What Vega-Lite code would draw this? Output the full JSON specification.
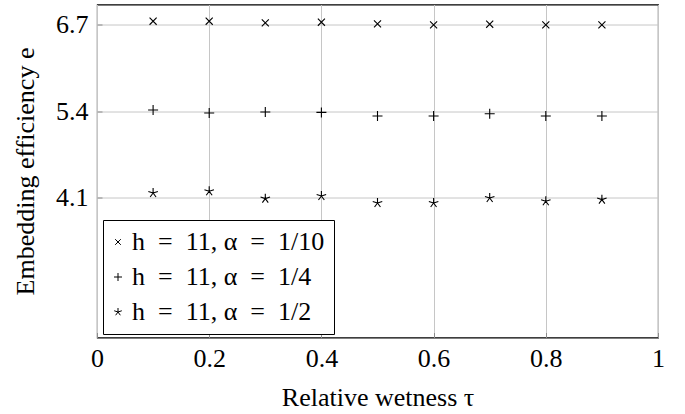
{
  "$schema": "https://vega.github.io/schema/vega-lite/v6.json",
  "autosize": "none",
  "width": 561,
  "height": 333,
  "padding": {"left": 97, "top": 4.5, "right": 27, "bottom": 76.5},
  "background": "white",
  "config": {
    "view": {"stroke": "black", "strokeWidth": 1.1},
    "axis": {
      "labelFont": "Liberation Serif",
      "titleFont": "Liberation Serif",
      "labelFontSize": 26,
      "titleFontSize": 26,
      "titleFontWeight": "normal",
      "labelColor": "black",
      "titleColor": "black",
      "domain": false,
      "grid": true,
      "gridColor": "#c6c6c6",
      "gridWidth": 1,
      "tickColor": "#8c8c8c",
      "tickSize": -5,
      "tickWidth": 1
    },
    "legend": {
      "labelFont": "Liberation Serif",
      "labelFontSize": 26,
      "labelColor": "black"
    }
  },
  "data": {
    "values": [
      {"series": "h = 11, α = 1/10", "tau": 0.1, "e": 6.749},
      {"series": "h = 11, α = 1/10", "tau": 0.2, "e": 6.749},
      {"series": "h = 11, α = 1/10", "tau": 0.3, "e": 6.724},
      {"series": "h = 11, α = 1/10", "tau": 0.4, "e": 6.734},
      {"series": "h = 11, α = 1/10", "tau": 0.5, "e": 6.709},
      {"series": "h = 11, α = 1/10", "tau": 0.6, "e": 6.694},
      {"series": "h = 11, α = 1/10", "tau": 0.7, "e": 6.704},
      {"series": "h = 11, α = 1/10", "tau": 0.8, "e": 6.694},
      {"series": "h = 11, α = 1/10", "tau": 0.9, "e": 6.694},
      {"series": "h = 11, α = 1/4", "tau": 0.1, "e": 5.415},
      {"series": "h = 11, α = 1/4", "tau": 0.2, "e": 5.37},
      {"series": "h = 11, α = 1/4", "tau": 0.3, "e": 5.385},
      {"series": "h = 11, α = 1/4", "tau": 0.4, "e": 5.38},
      {"series": "h = 11, α = 1/4", "tau": 0.5, "e": 5.325},
      {"series": "h = 11, α = 1/4", "tau": 0.6, "e": 5.325},
      {"series": "h = 11, α = 1/4", "tau": 0.7, "e": 5.36},
      {"series": "h = 11, α = 1/4", "tau": 0.8, "e": 5.325},
      {"series": "h = 11, α = 1/4", "tau": 0.9, "e": 5.325},
      {"series": "h = 11, α = 1/2", "tau": 0.1, "e": 4.17},
      {"series": "h = 11, α = 1/2", "tau": 0.2, "e": 4.196},
      {"series": "h = 11, α = 1/2", "tau": 0.3, "e": 4.085},
      {"series": "h = 11, α = 1/2", "tau": 0.4, "e": 4.125},
      {"series": "h = 11, α = 1/2", "tau": 0.5, "e": 4.02},
      {"series": "h = 11, α = 1/2", "tau": 0.6, "e": 4.02},
      {"series": "h = 11, α = 1/2", "tau": 0.7, "e": 4.095},
      {"series": "h = 11, α = 1/2", "tau": 0.8, "e": 4.046},
      {"series": "h = 11, α = 1/2", "tau": 0.9, "e": 4.07}
    ]
  },
  "mark": {"type": "point", "filled": false, "size": 100, "strokeWidth": 1.1, "opacity": 1},
  "encoding": {
    "x": {
      "field": "tau",
      "type": "quantitative",
      "scale": {"domain": [0, 1], "nice": false, "zero": false},
      "axis": {
        "values": [0, 0.2, 0.4, 0.6, 0.8, 1],
        "labelExpr": "datum.value == 0 ? '0' : datum.value == 1 ? '1' : format(datum.value, '.1f')",
        "labelPadding": 13,
        "labelFlush": false,
        "title": "Relative wetness τ",
        "titleBaseline": "alphabetic",
        "titleY": 68
      }
    },
    "y": {
      "field": "e",
      "type": "quantitative",
      "scale": {"domain": [2, 7], "nice": false, "zero": false},
      "axis": {
        "values": [4.1, 5.4, 6.7],
        "format": ".1f",
        "labelPadding": 14,
        "title": "Embedding efficiency e",
        "titleBaseline": "alphabetic",
        "titleX": -63.5
      }
    },
    "shape": {
      "field": "series",
      "type": "nominal",
      "scale": {
        "domain": ["h = 11, α = 1/10", "h = 11, α = 1/4", "h = 11, α = 1/2"],
        "range": [
          "M-0.707,-0.707L0.707,0.707M-0.707,0.707L0.707,-0.707",
          "M-1,0L1,0M0,-1L0,1",
          "M0,0L0,-1M0,0L0.951,-0.309M0,0L0.588,0.809M0,0L-0.588,0.809M0,0L-0.951,-0.309"
        ]
      },
      "legend": {
        "title": null,
        "orient": "none",
        "legendX": 6,
        "legendY": 215.5,
        "strokeColor": "black",
        "fillColor": "white",
        "padding": 9,
        "symbolOffset": -7,
        "symbolSize": 64,
        "symbolStrokeWidth": 1,
        "symbolStrokeColor": "black",
        "symbolFillColor": "transparent",
        "labelOffset": 1,
        "labelLimit": 400,
        "rowPadding": 9,
        "labelExpr": "replace(replace(datum.label, ' = ', '\u2002=\u2002'), ' = ', '\u2002=\u2002')"
      }
    },
    "color": {"value": "black"}
  }
}
